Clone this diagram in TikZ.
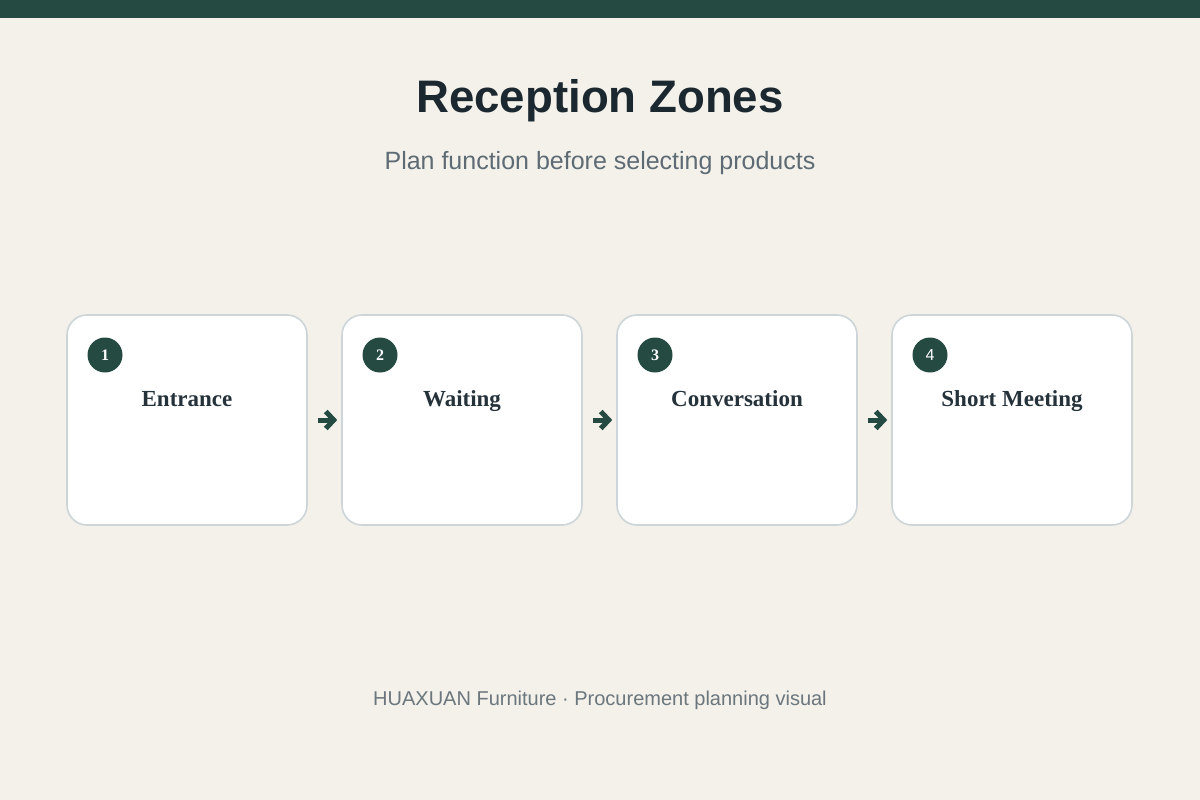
\documentclass[tikz,border=0pt]{standalone}
\usepackage{fontspec}
\setmainfont{Liberation Serif}
\setsansfont{Liberation Sans}
\usetikzlibrary{arrows.meta}
\definecolor{bgc}{HTML}{F3F1EA}
\definecolor{darkgreen}{HTML}{244A42}
\definecolor{titlec}{HTML}{1C2830}
\definecolor{subc}{HTML}{5E6B74}
\definecolor{footc}{HTML}{6B767D}
\definecolor{borderc}{HTML}{CDD5D9}
\definecolor{labelc}{HTML}{25323A}
\tikzset{
  zonebox/.style={draw=borderc, line width=1.6pt, fill=white, rounded corners=20pt,
    minimum width=240pt, minimum height=210pt, inner sep=0pt},
  numdot/.style={circle, fill=darkgreen, minimum size=35pt, inner sep=0pt,
    text=white, font=\fontsize{16}{16}\selectfont\bfseries},
  zonelabel/.style={text=labelc, font=\fontsize{23}{23}\selectfont\bfseries, inner sep=0pt, anchor=base},
  flowarrow/.style={draw=darkgreen, line width=5pt,
    -{Straight Barb[length=8pt, width=17pt, line width=5pt]}, shorten <=10pt, shorten >=4pt}
}
\begin{document}
\begin{tikzpicture}[x=1pt, y=-1pt]
\useasboundingbox (0,0) rectangle (1200,800);
\fill[bgc] (0,0) rectangle (1200,800);
\fill[darkgreen] (0,0) rectangle (1200,18);
\node[font=\sffamily\bfseries\fontsize{45.6}{46}\selectfont, text=titlec, inner sep=0pt, anchor=base] (title) at (600,112) {Reception Zones};
\node[font=\sffamily\fontsize{25}{25}\selectfont, text=subc, inner sep=0pt, anchor=base] (subtitle) at (600,169) {Plan function before selecting products};
\node[font=\sffamily\fontsize{20}{20}\selectfont, text=footc, inner sep=0pt, anchor=base] (footer) at (600,705) {HUAXUAN Furniture · Procurement planning visual};
\foreach \i/\x/\t/\f in {1/187/Entrance/, 2/462/Waiting/, 3/737/Conversation/, 4/1012/Short Meeting/\sffamily\mdseries}{
  \node[zonebox] (b\i) at (\x,420) {};
  \node[numdot] (n\i) at (\x-82,355) {\f\i};
  \node[zonelabel] (l\i) at (\x,406) {\t};
}
\draw[flowarrow] (b1.east) -- (b2.west);
\draw[flowarrow] (b2.east) -- (b3.west);
\draw[flowarrow] (b3.east) -- (b4.west);
\end{tikzpicture}
\end{document}
